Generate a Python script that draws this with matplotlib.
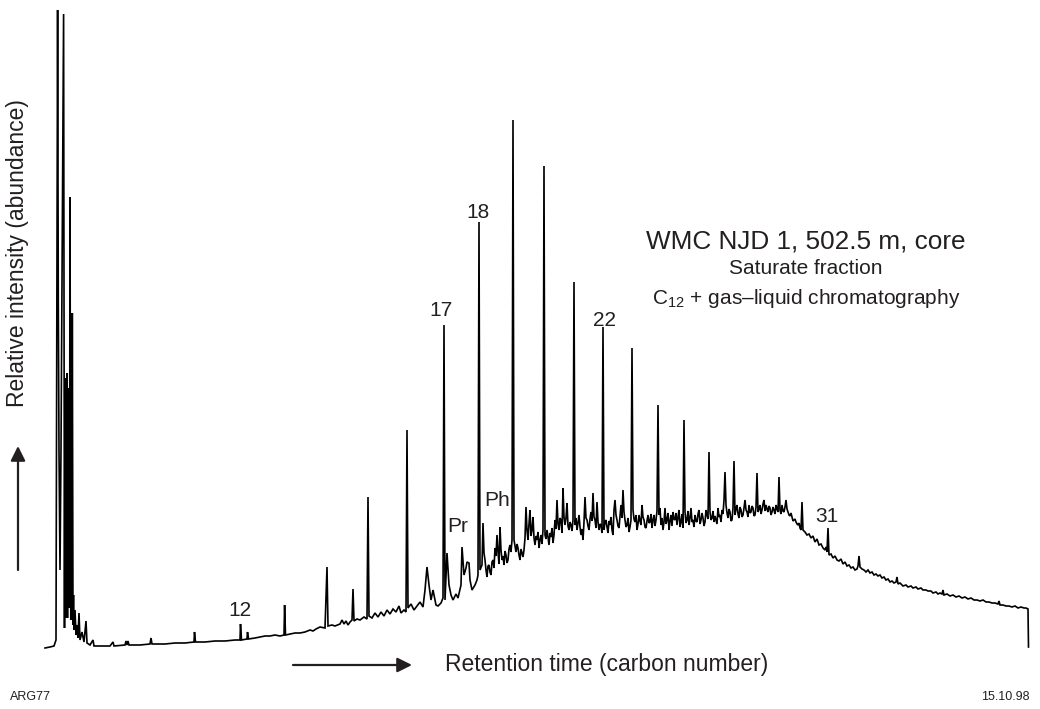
import matplotlib
matplotlib.use("Agg")
import matplotlib.pyplot as plt
from matplotlib.patches import FancyArrowPatch

plt.rcParams['font.family'] = ['Liberation Sans', 'DejaVu Sans']
plt.rcParams['mathtext.fontset'] = 'custom'
plt.rcParams['mathtext.rm'] = 'Liberation Sans'
plt.rcParams['mathtext.it'] = 'Liberation Sans:italic'

# ---------------- data (retention time in scan units, relative intensity) -------------
solvent_rt = [45, 50, 54, 55, 56, 57.6, 58.3, 59, 60, 61, 63.6, 64.5, 65, 65.5, 66, 66.5,
              67, 67.5, 68, 68.5, 69, 69.5, 70, 70.8, 71.3, 71.8, 72.3, 73, 73.5, 74, 75,
              76, 77, 78, 79, 80, 82, 84, 86, 87, 90, 93, 94]
solvent_int = [0, 1, 2, 5, 8, 638, 348, 198, 78, 198, 634, 20, 270, 30, 265, 40,
               275, 30, 260, 60, 180, 40, 451, 28, 150, 30, 335, 23, 53, 18, 38,
               13, 23, 10, 35, 8, 16, 6, 27, 5, 3, 8, 2]

early_rt = [100, 110, 113, 114, 125, 126, 127, 128, 129, 140, 150, 151, 152, 165, 175, 185,
            194, 194.5, 195.5, 205, 215, 225, 235, 240, 240.5, 241.5, 247, 247.5, 248.5,
            255, 260, 265, 270, 275, 280, 284, 284.6, 285.5, 290, 295, 300, 305, 310, 313,
            316, 320, 325, 327, 328, 332, 335, 340, 342, 344, 346, 348, 350, 352, 353, 354,
            357, 360, 364, 367, 368, 369, 372, 375, 378, 381, 384, 387, 390, 393, 396, 399,
            401, 404, 406, 407, 408, 411, 414, 417, 420, 423, 425, 427, 429, 431, 433, 436,
            438, 441, 443]
early_int = [2, 2, 6, 2, 3, 7, 3, 7, 3, 3, 4, 10, 4, 4, 5, 5,
             6, 16, 6, 6, 7, 7, 8, 8, 24, 8, 9, 16, 9,
             10, 11, 12, 12, 13, 12, 13, 43, 13, 14, 15, 15, 16, 18, 17,
             19, 21, 20, 81, 22, 23, 22, 24, 28, 24, 27, 23, 26, 28, 59, 27,
             29, 28, 31, 29, 151, 32, 30, 35, 31, 36, 32, 38, 34, 39, 36, 42,
             35, 38, 36, 218, 40, 44, 38, 42, 46, 41, 58, 81, 63, 48, 58, 43,
             42, 45, 50]

pristane_rt = [444, 445, 447, 449, 451, 453, 456, 458, 461, 462, 464, 466, 467, 469, 470, 472,
               475, 477, 478, 479, 480, 482, 483]
pristane_int = [323, 48, 95, 63, 53, 48, 54, 50, 63, 101, 73, 80, 86, 85, 68, 58,
                63, 68, 73, 426, 78, 83, 125]

middle_rt = list(range(484, 650))
middle_int = [95, 88, 78, 71, 82, 83, 76, 73, 86, 88,
              80, 100, 92, 113, 96, 84, 121, 98, 88, 92,
              83, 97, 93, 85, 88, 99, 103, 96, 108, 528,
              108, 102, 96, 104, 100, 93, 88, 99, 95, 91,
              98, 110, 141, 118, 108, 124, 138, 112, 118, 131,
              110, 103, 112, 108, 116, 100, 108, 113, 104, 118,
              482, 113, 109, 118, 111, 103, 115, 111, 120, 105,
              113, 128, 119, 148, 124, 118, 130, 128, 115, 160,
              131, 123, 130, 145, 122, 118, 126, 123, 117, 128,
              366, 123, 130, 118, 125, 133, 121, 113, 119, 108,
              126, 151, 130, 128, 122, 118, 129, 136, 127, 155,
              131, 128, 120, 146, 126, 118, 124, 123, 115, 321,
              118, 126, 128, 121, 115, 127, 123, 131, 118, 113,
              138, 148, 133, 128, 122, 120, 131, 143, 130, 158,
              136, 128, 121, 123, 130, 116, 121, 128, 300, 138,
              129, 126, 133, 118, 124, 133, 127, 123, 143, 131,
              128, 121, 120, 127, 133, 125]

hump_rt = list(range(650, 805))
hump_int = [126, 134, 120, 128, 133, 122, 128, 137, 243, 133, 140, 123, 130, 118, 126, 140,
            124, 128, 135, 118, 127, 133, 122, 136, 129, 128, 135, 123, 131, 138, 121, 126,
            134, 120, 228, 136, 125, 128, 137, 123, 130, 140, 126, 128, 121, 133, 127, 126,
            134, 138, 124, 128, 135, 130, 122, 126, 138, 133, 129, 196, 136, 128, 130, 137,
            126, 132, 128, 124, 140, 131, 133, 126, 138, 134, 148, 176, 143, 135, 130, 139,
            136, 127, 128, 140, 187, 133, 139, 143, 134, 130, 141, 138, 131, 133, 140, 148,
            138, 136, 131, 143, 135, 136, 142, 140, 132, 133, 141, 175, 136, 139, 143, 134,
            138, 144, 148, 137, 143, 139, 136, 142, 140, 133, 136, 141, 138, 134, 143, 139,
            136, 171, 138, 134, 143, 137, 136, 141, 148, 139, 136, 133, 132, 135, 131, 127,
            128, 129, 126, 124, 123, 125, 120, 118, 146, 118, 117]

tail_rt = [805, 807, 809, 811, 813, 815, 817, 819, 821, 823, 825, 826, 827, 828, 829, 831,
           833, 835, 837, 839, 841, 843, 845, 847, 849, 851, 853, 855, 857, 858, 859, 860,
           862, 864, 866, 868, 870, 872, 874, 876, 878, 880, 882, 884, 886, 888, 890, 892,
           894, 896, 897, 898, 900, 903, 906, 908, 911, 913, 916, 918, 921, 923, 926, 928,
           931, 933, 936, 938, 940, 942, 943, 944, 947, 950, 953, 956, 959, 962, 965, 968,
           971, 974, 977, 980, 983, 986, 989, 992, 995, 998, 999, 1000, 1003, 1006, 1009, 1012,
           1015, 1018, 1021, 1024, 1026, 1028, 1028.5]
tail_int = [116, 113, 114, 110, 112, 106, 109, 103, 104, 100, 98, 101, 96, 120, 93, 94,
            90, 92, 88, 87, 89, 84, 86, 82, 83, 80, 81, 78, 79, 82, 92, 81,
            79, 78, 76, 78, 75, 76, 73, 74, 72, 73, 70, 71, 68, 69, 66, 67,
            65, 66, 71, 64, 65, 62, 63, 61, 62, 60, 61, 59, 60, 58, 58, 57,
            57, 55, 56, 54, 55, 54, 58, 53, 54, 52, 53, 51, 52, 50, 51, 49,
            50, 48, 48, 47, 48, 46, 46, 45, 45, 44, 47, 43, 43, 42, 42, 41,
            42, 40, 41, 40, 40, 39, 1]

# peak annotations
label_text = ["12", "17", "18", "22", "31", "Pr", "Ph"]
label_rt = [240, 441, 478, 604, 827, 458, 497]
label_int = [37, 337, 436, 328, 131, 121, 148]

title_lines = ["WMC NJD 1, 502.5 m, core", "Saturate fraction",
               r"C$_{\mathrm{12}}$ + gas–liquid chromatography"]

# ---------------- plotting ----------------
W, H = 1040, 709
fig = plt.figure(figsize=(W / 100, H / 100), dpi=100)
fig.patch.set_facecolor('white')
ax = fig.add_axes([45 / W, 61 / H, 985 / W, 638 / H])
ax.set_xlim(45, 1030)
ax.set_ylim(0, 638)
ax.axis('off')

rt = solvent_rt + early_rt + pristane_rt + middle_rt + hump_rt + tail_rt
inten = solvent_int + early_int + pristane_int + middle_int + hump_int + tail_int
ax.plot(rt, inten, color='black', lw=1.2, clip_on=False, solid_joinstyle='miter')

tc = '#231f20'
for t, x, y in zip(label_text, label_rt, label_int):
    ax.text(x, y, t, fontsize=15, color=tc, ha='center', va='center')

ax.text(806, 407, title_lines[0], fontsize=18.8, color=tc, ha='center', va='center')
ax.text(806, 380, title_lines[1], fontsize=15, color=tc, ha='center', va='center')
ax.text(806, 350, title_lines[2], fontsize=15, color=tc, ha='center', va='center')

fig.text(18 / W, 1 - 253 / H, "Relative intensity (abundance)", rotation=90,
         fontsize=16.5, color=tc, ha='center', va='center')
fig.text(445 / W, 1 - 665 / H, "Retention time (carbon number)",
         fontsize=16.5, color=tc, ha='left', va='center')

arrow_kw = dict(arrowstyle='-|>', lw=1.6, color=tc, mutation_scale=22, shrinkA=0, shrinkB=0)
fig.add_artist(FancyArrowPatch((293 / W, 1 - 665 / H), (412 / W, 1 - 665 / H),
                               transform=fig.transFigure, **arrow_kw))
fig.add_artist(FancyArrowPatch((18 / W, 1 - 570 / H), (18 / W, 1 - 446 / H),
                               transform=fig.transFigure, **arrow_kw))

fig.text(10 / W, 1 - 697 / H, "ARG77", fontsize=9, color=tc, ha='left', va='center')
fig.text(1030 / W, 1 - 697 / H, "15.10.98", fontsize=9, color=tc, ha='right', va='center')

fig.savefig('out.png', dpi=100)
